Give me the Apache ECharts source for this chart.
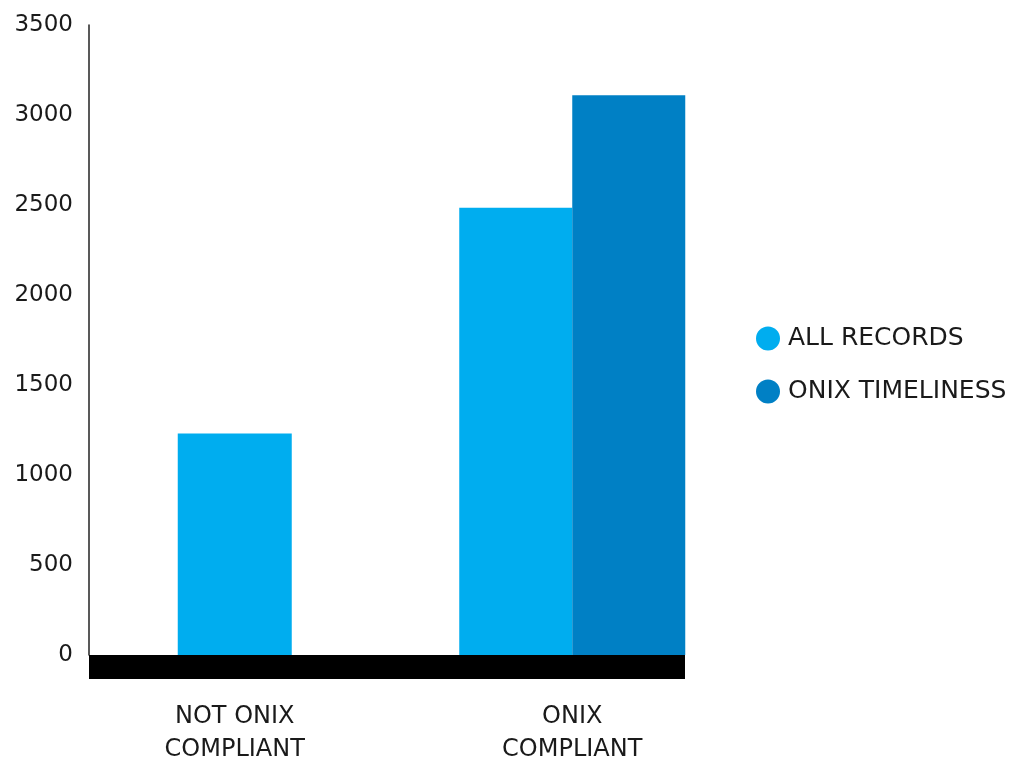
<!DOCTYPE html>
<html>
<head>
<meta charset="utf-8">
<script src="https://cdn.jsdelivr.net/npm/echarts@6/dist/echarts.min.js"></script>
<style>
  html, body { margin: 0; padding: 0; background: #ffffff; }
  #chart { width: 1029px; height: 760px; }
</style>
</head>
<body>
<div id="chart"></div>
<script>
// ---- data ----
const categories = ['NOT ONIX\nCOMPLIANT', 'ONIX\nCOMPLIANT'];
const seriesNames = ['ALL RECORDS', 'ONIX TIMELINESS'];
const allRecords = [1230, 2485];
const onixTimeliness = [null, 3110];
const yTicks = { min: 0, max: 3500, interval: 500 };

const colors = ['#00adef', '#0080c5'];
const FONT = 'DejaVu Sans';

// categories holding a single series get their bar centred on their own axis
const singleIdx = onixTimeliness.map(v => v == null);
const allSingle = allRecords.map((v, i) => singleIdx[i] ? v : '-');
const allGroup = allRecords.map((v, i) => singleIdx[i] ? '-' : v);
const onixGroup = onixTimeliness.map(v => v == null ? '-' : v);

const chart = echarts.init(document.getElementById('chart'), null, { renderer: 'canvas' });

chart.setOption({
  animation: false,
  backgroundColor: '#ffffff',
  grid: [
    { left: 66, right: 288, top: 25, bottom: 105, outerBoundsMode: 'none', containLabel: false },
    { left: 89, right: 344, top: 643, bottom: 93, outerBoundsMode: 'none', containLabel: false }
  ],
  legend: {
    data: seriesNames,
    orient: 'vertical',
    left: 751,
    top: 321,
    icon: 'circle',
    itemWidth: 24,
    itemHeight: 24,
    itemGap: 28,
    selectedMode: false,
    textStyle: {
      fontFamily: FONT,
      fontSize: 25,
      color: '#1a1a1a',
      padding: [0, 0, 0, 3]
    }
  },
  xAxis: [
    {
      type: 'category',
      gridIndex: 0,
      data: categories,
      axisLine: { show: false },
      axisTick: { show: false },
      axisLabel: {
        fontFamily: FONT,
        fontSize: 24,
        color: '#1a1a1a',
        lineHeight: 33,
        margin: 45,
        align: 'center'
      }
    },
    {
      type: 'category',
      gridIndex: 0,
      data: categories,
      show: false
    },
    {
      type: 'category',
      gridIndex: 1,
      data: categories,
      axisLine: { show: true, lineStyle: { color: '#000000', width: 24, cap: 'butt' } },
      axisTick: { show: false },
      axisLabel: { show: false }
    }
  ],
  yAxis: [
    {
      type: 'value',
      gridIndex: 0,
      min: yTicks.min,
      max: yTicks.max,
      interval: yTicks.interval,
      offset: -23,
      axisLine: { show: true, lineStyle: { color: '#222222', width: 1.5 } },
      axisTick: { show: false },
      splitLine: { show: false },
      axisLabel: {
        fontFamily: FONT,
        fontSize: 23,
        color: '#1a1a1a',
        margin: 16,
        padding: [5, 0, 0, 0],
        formatter: v => String(v)
      }
    },
    {
      type: 'value',
      gridIndex: 1,
      show: false
    }
  ],
  series: [
    {
      name: seriesNames[0],
      type: 'bar',
      xAxisIndex: 0,
      yAxisIndex: 0,
      data: allSingle,
      barWidth: 114,
      itemStyle: { color: colors[0] }
    },
    {
      name: seriesNames[0],
      type: 'bar',
      xAxisIndex: 1,
      yAxisIndex: 0,
      data: allGroup,
      barWidth: 113,
      barGap: '0%',
      itemStyle: { color: colors[0] }
    },
    {
      name: seriesNames[1],
      type: 'bar',
      xAxisIndex: 1,
      yAxisIndex: 0,
      data: onixGroup,
      barWidth: 113,
      barGap: '0%',
      itemStyle: { color: colors[1] }
    }
  ]
});
</script>
</body>
</html>
